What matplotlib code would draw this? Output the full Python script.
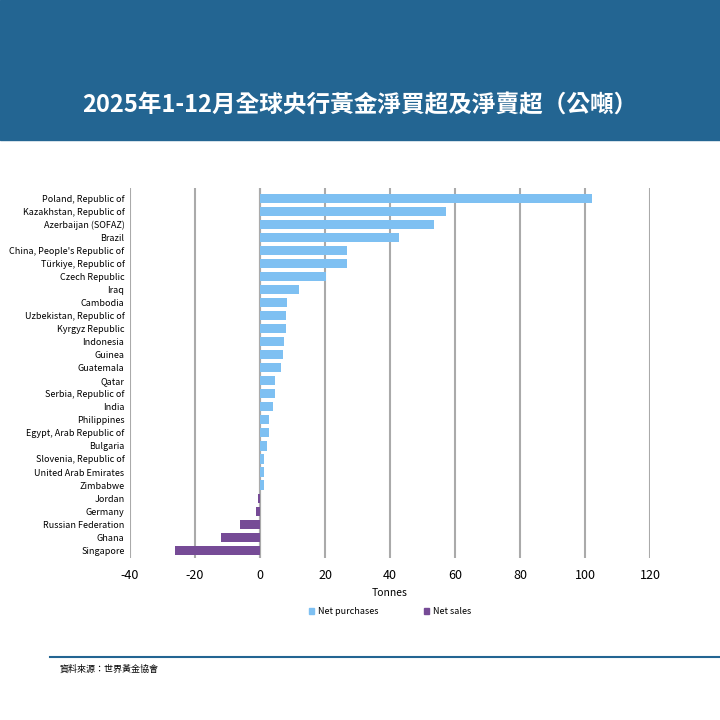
import matplotlib
matplotlib.use("Agg")
import matplotlib.pyplot as plt
from matplotlib.patches import Patch

plt.rcParams['font.family'] = ['Noto Sans CJK TC', 'DejaVu Sans']
plt.rcParams['axes.unicode_minus'] = False

countries = ["Poland, Republic of","Kazakhstan, Republic of","Azerbaijan (SOFAZ)","Brazil",
 "China, People's Republic of","Türkiye, Republic of","Czech Republic","Iraq","Cambodia",
 "Uzbekistan, Republic of","Kyrgyz Republic","Indonesia","Guinea","Guatemala","Qatar",
 "Serbia, Republic of","India","Philippines","Egypt, Arab Republic of","Bulgaria",
 "Slovenia, Republic of","United Arab Emirates","Zimbabwe","Jordan","Germany",
 "Russian Federation","Ghana","Singapore"]
values = [102.2,57.2,53.5,42.8,26.8,26.9,20.3,12.0,8.3,8.0,8.0,7.4,7.1,6.5,4.6,4.6,4.1,
 2.8,2.8,2.2,1.2,1.2,1.2,-0.6,-1.2,-6.2,-12.0,-26.2]
xticks = [-40,-20,0,20,40,60,80,100,120]

blue = "#7ec0f2"; purple = "#764b96"; band = "#236592"

fig = plt.figure(figsize=(7.2,7.2), dpi=100)
fig.patches.append(plt.Rectangle((0,1-140/720),1,140/720,transform=fig.transFigure,color=band,zorder=0))
fig.text(0.5,1-105/720,"2025年1-12月全球央行黃金淨買超及淨賣超（公噸）",color="white",
         fontsize=17,fontweight="bold",ha="center",va="center")
ax = fig.add_axes([130/720, 1-558/720, 520/720, 370/720])
y = list(range(len(countries)))
cols = [blue if v>=0 else purple for v in values]
ax.barh(y, values, color=cols, height=0.7, zorder=3)
ax.set_yticks(y)
ax.set_yticklabels(countries, fontsize=6.5)
ax.set_ylim(len(countries)-0.4, -0.8)
ax.set_xlim(-40,120)
ax.set_xticks(xticks)
ax.tick_params(axis='x', labelsize=9, length=0, pad=8)
ax.tick_params(axis='y', length=0, pad=4)
ax.grid(axis='x', color='#aaaaaa', linewidth=1.5, zorder=0)
for s in ax.spines.values(): s.set_visible(False)
ax.axvline(0, color='#aaaaaa', linewidth=1.5, zorder=2)
ax.set_xlabel("Tonnes", fontsize=7.5, labelpad=4)
ax.legend(handles=[Patch(color=blue,label="Net purchases"),Patch(color=purple,label="Net sales")],
          loc='upper center', bbox_to_anchor=(0.5,-0.11), ncol=2, frameon=False,
          fontsize=6.5, handlelength=0.6, handleheight=0.6, columnspacing=5, handletextpad=0.4)
fig.add_artist(plt.Line2D([50/720,1],[1-657/720]*2, color=band, linewidth=1.5, transform=fig.transFigure))
fig.text(60/720, 1-669/720, "資料來源：世界黃金協會", fontsize=6.5, va="center")
fig.savefig("out.png", dpi=100)
